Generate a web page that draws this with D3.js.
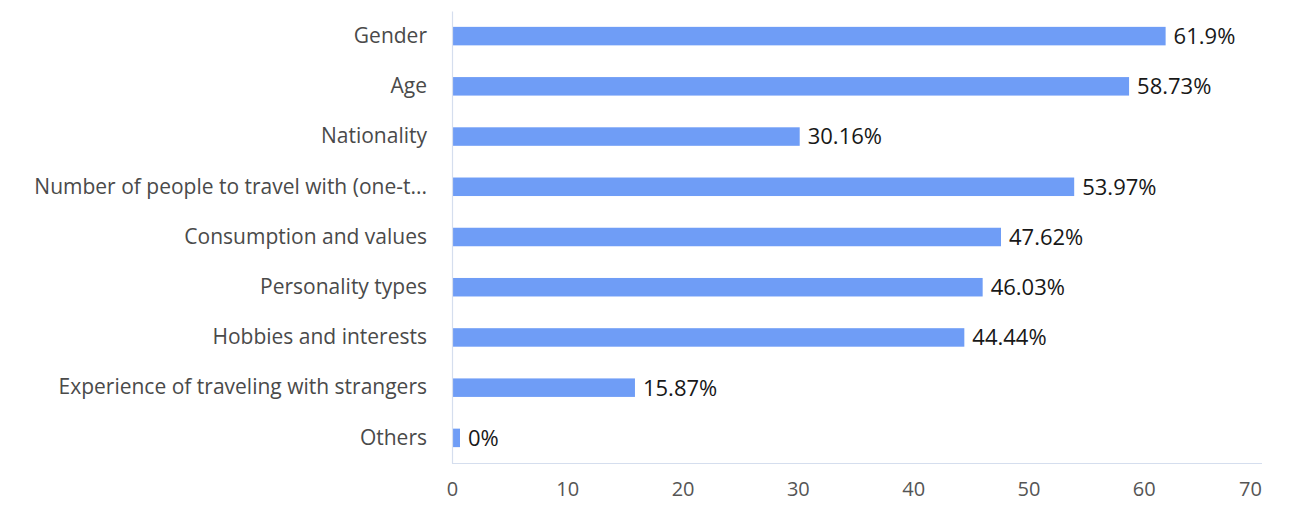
<!DOCTYPE html>
<html>
<head>
<meta charset="utf-8">
<script src="https://cdn.jsdelivr.net/npm/d3@7"></script>
<style>
  html, body { margin: 0; padding: 0; background: #fff; }
  svg text { font-family: "Open Sans", "Noto Sans", sans-serif; }
</style>
</head>
<body>
<svg id="chart" width="1290" height="507"></svg>
<script>
// Share of respondents choosing each matching criterion (%)
const categories = [
  "Gender",
  "Age",
  "Nationality",
  "Number of people to travel with (one-t...",
  "Consumption and values",
  "Personality types",
  "Hobbies and interests",
  "Experience of traveling with strangers",
  "Others"
];
const values = [61.9, 58.73, 30.16, 53.97, 47.62, 46.03, 44.44, 15.87, 0];
const valueLabels = ["61.9%", "58.73%", "30.16%", "53.97%", "47.62%", "46.03%", "44.44%", "15.87%", "0%"];
const xTicks = [0, 10, 20, 30, 40, 50, 60, 70];

const svg = d3.select("#chart");
const margin = { top: 11, right: 28, bottom: 44, left: 452 };
const width = 1290 - margin.left - margin.right;
const height = 507 - margin.top - margin.bottom;

const g = svg.append("g").attr("transform", `translate(${margin.left},${margin.top})`);

const x = d3.scaleLinear().domain([0, 70]).range([0, 807]);
const y = d3.scaleBand().domain(categories).range([0, height]).paddingInner(0).paddingOuter(0);
const barH = 18.5;
const minBar = 8;

// bars
g.selectAll("rect.bar")
  .data(values)
  .join("rect")
  .attr("class", "bar")
  .attr("x", 0)
  .attr("y", (d, i) => y(categories[i]) + y.bandwidth() / 2 - barH / 2)
  .attr("width", d => Math.max(x(d), minBar))
  .attr("height", barH)
  .attr("fill", "#6f9df6");

// value labels
g.selectAll("text.val")
  .data(values)
  .join("text")
  .attr("class", "val")
  .attr("x", d => Math.max(x(d), minBar) + 8)
  .attr("y", (d, i) => y(categories[i]) + y.bandwidth() / 2)
  .attr("dy", "0.36em")
  .attr("font-size", 22)
  .attr("fill", "#181818")
  .text((d, i) => valueLabels[i]);

// category axis
const yAxis = g.append("g").call(d3.axisLeft(y).tickSize(0).tickPadding(25));
yAxis.select(".domain").attr("stroke", "#d5deee").attr("stroke-width", 1.2);
yAxis.selectAll("text").attr("font-size", 21).attr("fill", "#4a4a4a");

// value axis
const xAxis = g.append("g")
  .attr("transform", `translate(0,${height})`)
  .call(d3.axisBottom(x).tickValues(xTicks).tickSize(0).tickPadding(19).tickFormat(d3.format("d")));
xAxis.select(".domain").attr("d", `M0,0.5H${width}`).attr("stroke", "#d5deee").attr("stroke-width", 1.2);
xAxis.selectAll("text").attr("font-size", 20).attr("fill", "#555");
// keep the last tick label inside the chart edge
xAxis.selectAll(".tick").filter(d => d === 70).select("text").attr("dx", -9);
</script>
</body>
</html>
